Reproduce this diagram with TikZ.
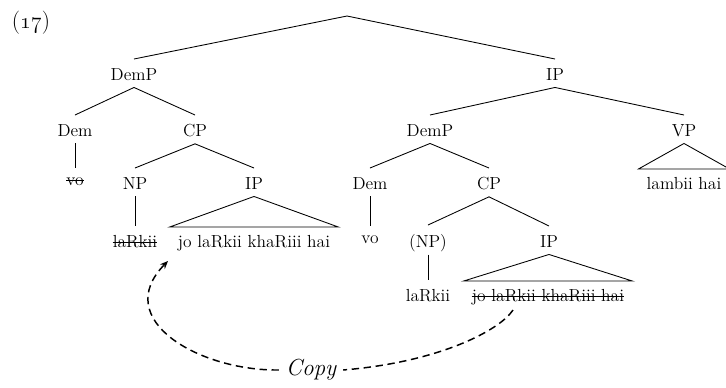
\documentclass[tikz,border=0pt]{standalone}
\usetikzlibrary{arrows.meta}
\newcommand\mainsize{\fontsize{13.1}{15.7}\selectfont}
\newcommand\bigsize{\fontsize{17.4}{20}\selectfont}
% tree edge from the bottom of a label to the top of a daughter label
\newcommand\treeedge[2]{\draw[branch] ([yshift=-5.25pt]#1.south) -- ([yshift=6.75pt]#2.north);}
% triangle (roof) over an unanalysed constituent
\newcommand\treeroof[2]{\draw[branch] ([yshift=-5.25pt]#1.south) -- ([xshift=6pt,yshift=6pt]#2.north east) -- ([xshift=-6pt,yshift=6pt]#2.north west) -- cycle;}
% line through a deleted (unpronounced) copy
\newcommand\strikenode[1]{\draw[branch] ([yshift=3.6pt]#1.south west) -- ([yshift=3.6pt]#1.south east);}
\begin{document}
\begin{tikzpicture}[x=0.75pt,y=-0.75pt,
  lab/.style={anchor=north,inner sep=0pt,text depth=0pt,font=\mainsize},
  branch/.style={line width=0.65pt},
  copyline/.style={line width=1.1pt,dash pattern=on 5.5pt off 3.5pt},
]
\useasboundingbox (0,0) rectangle (726,387);

\node[font=\bigsize,inner sep=0pt] (exnum) at (31,23) {(\oldstylenums{17})};

% labels
\coordinate (root) at (347,16);
\node[lab] (demp1) at (134,68) {DemP};
\node[lab] (ip1)   at (555,68) {IP};
\node[lab] (dem1)  at (75,124) {Dem};
\node[lab] (cp1)   at (195,124) {CP};
\node[lab] (demp2) at (430,124) {DemP};
\node[lab] (vp)    at (684,124) {VP};
\node[lab] (vo1)   at (75,177) {vo};
\node[lab] (np1)   at (135,177) {NP};
\node[lab] (ip2)   at (254,177) {IP};
\node[lab] (dem2)  at (370,177) {Dem};
\node[lab] (cp2)   at (489,177) {CP};
\node[lab] (vpt)   at (684,177) {lambii hai};
\node[lab] (lar1)  at (135,235) {laRkii};
\node[lab] (rel1)  at (254,235) {jo laRkii khaRiii hai};
\node[lab] (vo2)   at (370,235) {vo};
\node[lab] (np2)   at (428,234) {(NP)};
\node[lab] (ip3)   at (549,235) {IP};
\node[lab] (lar2)  at (428,289) {laRkii};
\node[lab] (rel2)  at (548,289) {jo laRkii khaRiii hai};

% branches
\draw[branch] (root) -- ([yshift=6.75pt]demp1.north);
\draw[branch] (root) -- ([yshift=6.75pt]ip1.north);
\treeedge{demp1}{dem1}
\treeedge{demp1}{cp1}
\treeedge{ip1}{demp2}
\treeedge{ip1}{vp}
\treeedge{dem1}{vo1}
\treeedge{cp1}{np1}
\treeedge{cp1}{ip2}
\treeedge{demp2}{dem2}
\treeedge{demp2}{cp2}
\treeroof{vp}{vpt}
\treeedge{np1}{lar1}
\treeroof{ip2}{rel1}
\treeedge{dem2}{vo2}
\treeedge{cp2}{np2}
\treeedge{cp2}{ip3}
\treeedge{np2}{lar2}
\treeroof{ip3}{rel2}

% deleted copies
\strikenode{vo1}
\strikenode{lar1}
\strikenode{rel2}

% copy arrow
\node[font=\bigsize\itshape,inner sep=0pt,inner xsep=5pt] (copy) at (311,370) {Copy};
\coordinate (copyfrom) at (513,310);
\coordinate (copyto) at (168,261);
\draw[copyline] (copyfrom) .. controls (500,330) and (440,362) .. (copy.east);
\draw[copyline,-{Stealth[length=6pt,width=5pt]}] (copy.west) .. controls (200,371) and (110,320) .. (copyto);
\end{tikzpicture}
\end{document}
